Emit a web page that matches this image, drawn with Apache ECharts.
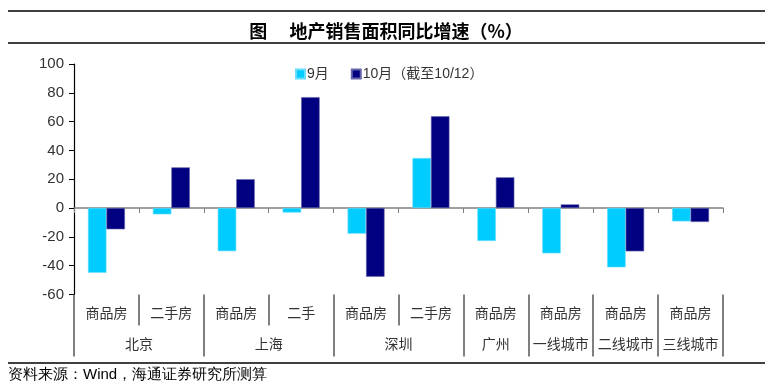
<!DOCTYPE html>
<html>
<head>
<meta charset="utf-8">
<script src="https://cdn.jsdelivr.net/npm/echarts@6/dist/echarts.min.js"></script>
<style>html,body{margin:0;padding:0;background:#fff;}#c{width:772px;height:391px;}</style>
</head>
<body>
<div id="c"></div>
<script>
// Data
const types = ['商品房','二手房','商品房','二手','商品房','二手房','商品房','商品房','商品房','商品房'];
const cities = ['北京','上海','深圳','广州','一线城市','二线城市','三线城市'];
const citySpans = [2,2,2,1,1,1,1];
const sep = [-45,-4.4,-30,-3.2,-17.8,34.7,-22.9,-31.5,-41.2,-9.3];
const oct = [-14.8,28.2,20,77,-47.7,63.7,21.3,2.5,-30.1,-9.7];
const yTicks = [-60,-40,-20,0,20,40,60,80,100];
const seriesNames = ['9月','10月（截至10/12）'];

// city group boundaries and centres (derived from spans)
const bounds = [0];
citySpans.forEach(s => bounds.push(bounds[bounds.length-1]+s));
const centres = citySpans.map((s,i) => bounds[i]+s/2);
const cityAt = {};
centres.forEach((c,i) => { cityAt[c] = cities[i]; });

const font = "Arial, 'Liberation Sans', 'Noto Sans CJK SC', sans-serif";
const chart = echarts.init(document.getElementById('c'), null, {renderer:'canvas'});
chart.setOption({
  animation:false,
  backgroundColor:'#fff',
  title:{
    text:'图　 地产销售面积同比增速（%）',
    left:'center', top:17,
    textStyle:{fontSize:18,fontWeight:'bold',color:'#000',fontFamily:"'Noto Sans CJK SC', sans-serif"}
  },
  legend:{
    left:290, top:62,
    itemWidth:9, itemHeight:9, itemGap:22,
    icon:'rect',
    textStyle:{fontSize:14,color:'#333',fontFamily:font, padding:[0,0,0,-3]},
    data:seriesNames
  },
  grid:{left:74, right:49, top:64, bottom:96.6, containLabel:false},
  xAxis:[
    {
      type:'category', data:types, position:'bottom',
      axisLine:{onZero:true, lineStyle:{color:'#808080',width:1.5}},
      axisTick:{show:true,length:5,lineStyle:{color:'#808080'}},
      axisLabel:{show:false}
    },
    {
      type:'category', data:types, position:'bottom',
      axisLine:{show:false,onZero:false},
      axisTick:{show:true,length:31,lineStyle:{color:'#555',width:1.5}},
      axisLabel:{show:true,margin:13,fontSize:14,color:'#333',fontFamily:font}
    },
    {
      type:'value', min:0, max:10, position:'bottom',
      splitLine:{show:false},
      axisLine:{show:false,onZero:false},
      axisTick:{show:true,length:62,customValues:bounds,lineStyle:{color:'#555',width:1.5}},
      axisLabel:{show:true,margin:44,fontSize:14,color:'#333',fontFamily:font,
        customValues:centres, formatter:v => cityAt[v] || ''}
    }
  ],
  yAxis:{
    type:'value', min:-60, max:100, interval:20,
    axisLine:{show:true,onZero:false,lineStyle:{color:'#000',width:1.2}},
    axisTick:{show:true,length:5,lineStyle:{color:'#000'}},
    splitLine:{show:false},
    axisLabel:{fontSize:15,color:'#333',margin:10,fontFamily:font,
      formatter:v => yTicks.includes(v) ? String(v) : ''}
  },
  series:[
    {name:seriesNames[0], type:'bar', data:sep, xAxisIndex:0, barGap:'0%', barCategoryGap:'43%',
     itemStyle:{color:'#00CCFF',borderColor:'#66ddff',borderWidth:0.6}},
    {name:seriesNames[1], type:'bar', data:oct, xAxisIndex:0, barGap:'0%', barCategoryGap:'43%',
     itemStyle:{color:'#000080',borderColor:'#6666aa',borderWidth:0.6}}
  ],
  graphic:[
    {type:'line', shape:{x1:8,y1:11,x2:765,y2:11}, style:{stroke:'#000',lineWidth:1.5}},
    {type:'line', shape:{x1:8,y1:43,x2:765,y2:43}, style:{stroke:'#000',lineWidth:1.5}},
    {type:'line', shape:{x1:8,y1:363,x2:765,y2:363}, style:{stroke:'#000',lineWidth:1.5}},
    {type:'text', left:8, top:367, style:{text:'资料来源：Wind，海通证券研究所测算', fontSize:15, fill:'#000',
      font:"15px Arial, 'Liberation Sans', 'Noto Sans CJK SC', sans-serif"}}
  ]
});
</script>
</body>
</html>
